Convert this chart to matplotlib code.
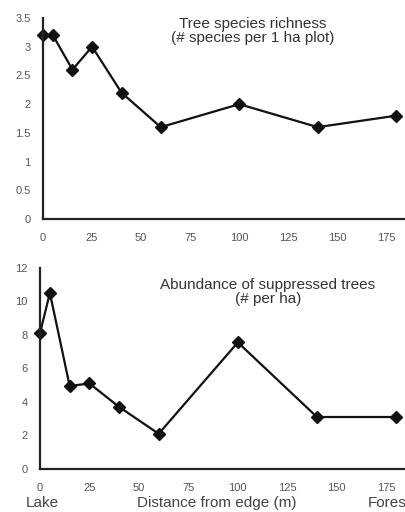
import matplotlib
matplotlib.use("Agg")
import matplotlib.pyplot as plt

# distance from lake edge (m)
distance = [0, 5, 15, 25, 40, 60, 100, 140, 180]
# tree species richness (# species per 1 ha plot)
richness = [3.2, 3.2, 2.6, 3.0, 2.2, 1.6, 2.0, 1.6, 1.8]
# abundance of suppressed trees (# per ha)
suppressed = [8.1, 10.5, 4.95, 5.1, 3.7, 2.1, 7.55, 3.1, 3.1]

x_ticks = [0, 25, 50, 75, 100, 125, 150, 175]
top_yticks = [0, 0.5, 1, 1.5, 2, 2.5, 3, 3.5]
top_ylabels = ["0", "0.5", "1", "1.5", "2", "2.5", "3", "3.5"]
bot_yticks = [0, 2, 4, 6, 8, 10, 12]

plt.rcParams['font.family'] = ['Liberation Sans', 'DejaVu Sans']

fig = plt.figure(figsize=(4.06, 5.12), dpi=100)
ax1 = fig.add_axes([0.106, 0.572, 0.894, 0.393])
ax2 = fig.add_axes([0.0985, 0.084, 0.9015, 0.393])

def style(ax):
    for side in ['top', 'right']:
        ax.spines[side].set_visible(False)
    for side in ['left', 'bottom']:
        ax.spines[side].set_linewidth(1.6)
        ax.spines[side].set_color('#222222')
    ax.tick_params(length=0, labelsize=8, labelcolor='#555555')
    ax.tick_params(axis='x', pad=10)
    ax.tick_params(axis='y', pad=9)
    ax.set_xlim(0, 185)
    ax.set_xticks(x_ticks)

ax1.plot(distance, richness, color='#111111', lw=1.6, marker='D', ms=6, clip_on=False)
style(ax1)
ax1.set_ylim(0, 3.5)
ax1.set_yticks(top_yticks)
ax1.set_yticklabels(top_ylabels)
ax1.text(0.578, 0.935, "Tree species richness\n(# species per 1 ha plot)", transform=ax1.transAxes,
         ha='center', va='center', fontsize=11, color='#333333', linespacing=1.0)

ax2.plot(distance, suppressed, color='#111111', lw=1.6, marker='D', ms=6, clip_on=False)
style(ax2)
ax2.set_ylim(0, 12)
ax2.set_yticks(bot_yticks)
ax2.text(0.623, 0.88, "Abundance of suppressed trees\n(# per ha)", transform=ax2.transAxes,
         ha='center', va='center', fontsize=11, color='#333333', linespacing=1.0)

fig.text(42 / 406, 1 - 503 / 512, "Lake", ha='center', va='center', fontsize=11, color='#444444')
fig.text(217 / 406, 1 - 503 / 512, "Distance from edge (m)", ha='center', va='center', fontsize=11, color='#444444')
fig.text(368 / 406, 1 - 503 / 512, "Forest", ha='left', va='center', fontsize=11, color='#444444')

fig.savefig("out.png", dpi=100)
